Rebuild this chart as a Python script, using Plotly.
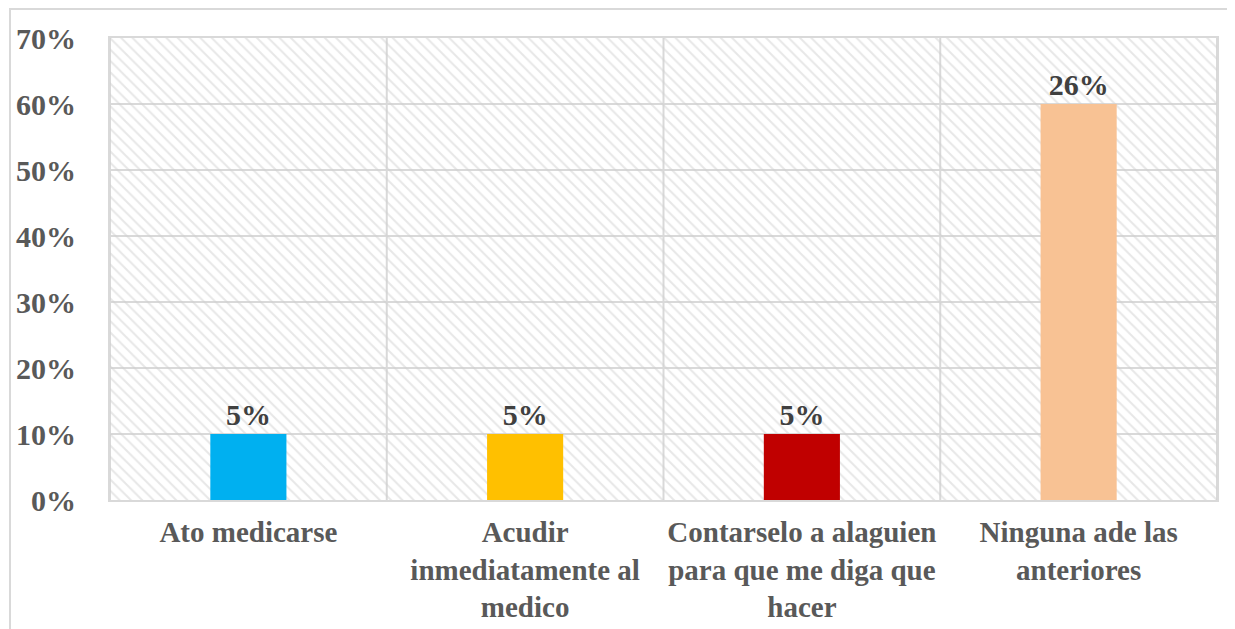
import plotly.graph_objects as go

categories = ["Ato medicarse", "Acudir<br>inmediatamente al<br>medico",
              "Contarselo a alaguien<br>para que me diga que<br>hacer", "Ninguna ade las<br>anteriores"]
values = [0.10, 0.10, 0.10, 0.60]
labels = ["5%", "5%", "5%", "26%"]
colors = ["#00B0F0", "#FFC000", "#C00000", "#F8C294"]
y_ticks = [0, 0.1, 0.2, 0.3, 0.4, 0.5, 0.6, 0.7]
y_ticktext = ["0%", "10%", "20%", "30%", "40%", "50%", "60%", "70%"]

FONT = "Liberation Serif"
GRID = "#d9d9d9"
positions = list(range(len(categories)))

# the page body adds an 8px offset; size the figure to fill the rest of the window
W, H = 1227, 621
L, R, T, B = 102, 18, 30, 129
PW, PH = W - L - R, H - T - B

fig = go.Figure()

# hatched background of plot area (transparent between hatch lines)
fig.add_trace(go.Bar(
    x=[(positions[0] + positions[-1]) / 2], y=[y_ticks[-1]], width=[len(categories)],
    marker=dict(color="rgba(0,0,0,0)", line=dict(width=0),
                pattern=dict(shape="\\", fgcolor="#d0d0d0", bgcolor="rgba(0,0,0,0)",
                             size=8, solidity=0.25)),
    hoverinfo="skip", showlegend=False,
))

fig.add_trace(go.Bar(
    x=positions, y=values, width=0.275,
    marker=dict(color=colors, line=dict(width=0)),
    text=labels, textposition="outside", cliponaxis=False,
    textfont=dict(family=FONT, size=30, color="#404040", weight="bold"),
    showlegend=False,
))

fig.update_layout(
    width=W, height=H,
    margin=dict(l=L, r=R, t=T, b=B),
    paper_bgcolor="white", plot_bgcolor="white",
    font=dict(family=FONT),
    barmode="overlay",
    xaxis=dict(
        tickvals=positions, ticktext=categories,
        showgrid=False, zeroline=False, automargin=False,
        tickfont=dict(family=FONT, size=29, color="#595959", weight="bold"),
        ticks="outside", ticklen=5, tickcolor="rgba(0,0,0,0)",
        range=[-0.5, 3.5],
        showline=True, mirror=True, linecolor=GRID, linewidth=2,
    ),
    yaxis=dict(
        range=[0, 0.7], tickvals=y_ticks, ticktext=y_ticktext,
        tickfont=dict(family=FONT, size=30, color="#595959", weight="bold"),
        showgrid=True, gridcolor=GRID, gridwidth=2, automargin=False,
        zeroline=False, ticks="outside", ticklen=26, tickcolor="rgba(0,0,0,0)",
        showline=True, mirror=True, linecolor=GRID, linewidth=2,
    ),
)

# vertical separators between categories
for i in range(len(categories) + 1):
    fig.add_shape(type="line", xref="x", yref="paper", x0=i - 0.5, x1=i - 0.5, y0=0, y1=1,
                  line=dict(color=GRID, width=2), layer="below")

# outer chart border
fig.add_shape(type="rect", xref="paper", yref="paper",
              x0=-(L - 2) / PW, x1=1.2, y0=-1.2, y1=1 + (T - 1) / PH,
              line=dict(color=GRID, width=2), fillcolor="rgba(0,0,0,0)", layer="below")

fig.write_html("out.html")
